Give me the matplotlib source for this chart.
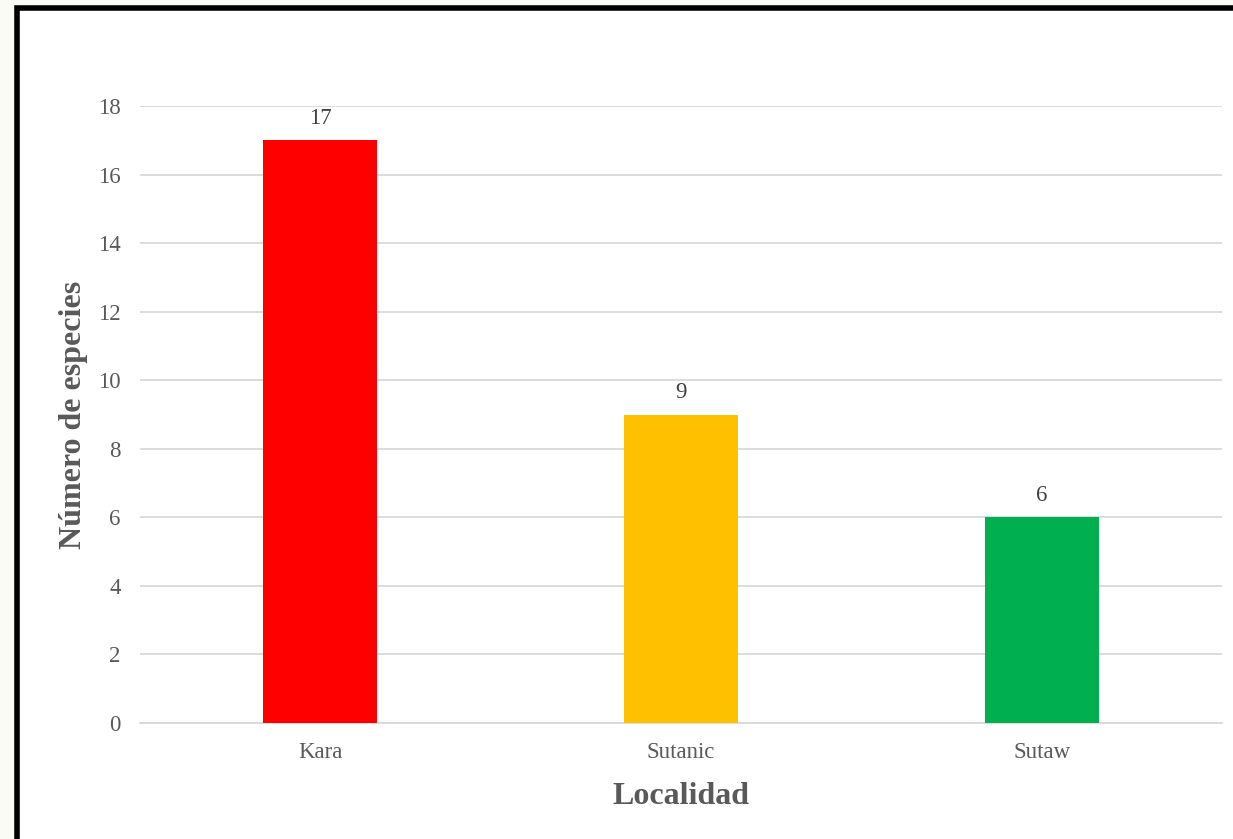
import matplotlib.pyplot as plt
from matplotlib.patches import Rectangle

localidades = ["Kara", "Sutanic", "Sutaw"]
especies = [17, 9, 6]
colores = ["#ff0000", "#ffc000", "#00b050"]

plt.rcParams["font.family"] = ["Liberation Serif", "DejaVu Serif"]
gris = "#595959"

fig = plt.figure(figsize=(12.33, 8.39), dpi=100)
fig.patch.set_facecolor("#fbfbf6")

# marco negro del gráfico (se sale por la derecha y abajo)
fig.patches.append(Rectangle((17 / 1233, -0.05), 1.1, (839 - 7.5) / 839 + 0.05,
                             transform=fig.transFigure, facecolor="white",
                             edgecolor="black", linewidth=4, zorder=-5))

ax = fig.add_axes([140 / 1233, 1 - 723 / 839, (1222 - 140) / 1233, (723 - 106) / 839])
ax.set_zorder(2)
ax.set_facecolor("none")

x = range(len(localidades))
barras = ax.bar(x, especies, width=0.316, color=colores, zorder=3)
for b, v in zip(barras, especies):
    ax.annotate(str(v), (b.get_x() + b.get_width() / 2, v), xytext=(0, 8),
                textcoords="offset points", ha="center", va="bottom",
                fontsize=16.5, color="#404040")

ax.set_xlim(-0.5, 2.5)
ax.set_ylim(0, 18)
ax.set_yticks(range(0, 19, 2))
ax.set_xticks(list(x))
ax.set_xticklabels(localidades)
ax.grid(axis="y", color="#d9d9d9", linewidth=1.3, zorder=0)
for s in ["top", "right", "left"]:
    ax.spines[s].set_visible(False)
ax.spines["bottom"].set_color("#d9d9d9")
ax.spines["bottom"].set_linewidth(1.3)
ax.tick_params(axis="both", length=0, labelsize=16.5, colors=gris)
ax.tick_params(axis="y", pad=14)
ax.tick_params(axis="x", pad=14)

ax.set_ylabel("Número de especies", fontsize=23, fontweight="bold", color=gris, labelpad=7)
ax.set_xlabel("Localidad", fontsize=23, fontweight="bold", color=gris, labelpad=13)

fig.savefig("out.png", dpi=100, facecolor=fig.get_facecolor())
